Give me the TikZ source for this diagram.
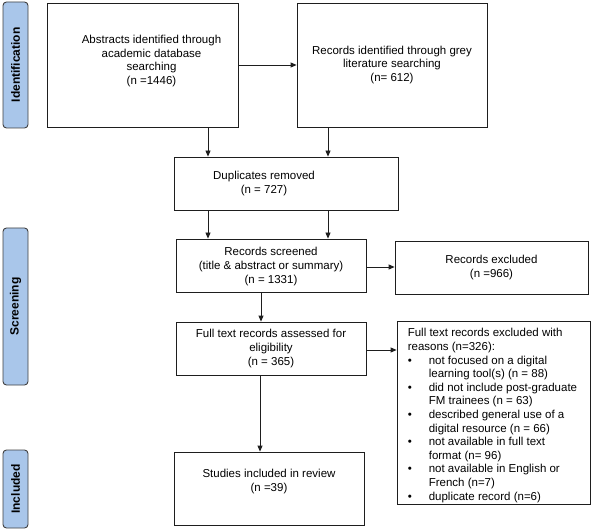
\documentclass[tikz,border=0pt]{standalone}
\usepackage{fontspec}
\setmainfont{Liberation Sans}
\usetikzlibrary{arrows.meta,calc}
\definecolor{lblfill}{HTML}{A9C6EA}
\definecolor{lbldraw}{HTML}{404040}
\definecolor{ln}{HTML}{1E1E1E}
\newcommand{\bul}{\makebox[21pt][l]{\textbullet}}
\newcommand{\ind}{\hspace*{21pt}}
\begin{document}
\begin{tikzpicture}[x=1pt,y=-1pt,
  box/.style={draw=ln,line width=0.8pt,rectangle,inner sep=0pt},
  txt/.style={align=center,inner sep=0pt,font=\fontsize{11.5}{13.6}\selectfont},
  phase/.style={draw=lbldraw,fill=lblfill,line width=0.9pt,rounded corners=3.5pt,minimum width=25pt,inner sep=0pt,font=\fontsize{12}{14}\selectfont\bfseries},
  arr/.style={draw=ln,line width=0.8pt,-{Triangle[length=6pt,width=5pt]}}]
\useasboundingbox (0,0) rectangle (591,529);
% phase labels
\node[phase,minimum height=126pt] (pid) at (15.5,65) {\rotatebox{90}{Identification}};
\node[phase,minimum height=157pt] (psc) at (15.5,306.5) {\rotatebox{90}{Screening}};
\node[phase,minimum height=78pt] (pin) at (15.5,489) {\rotatebox{90}{Included}};
% boxes
\node[box,minimum width=191pt,minimum height=124pt,
  label={[txt,xshift=9pt,yshift=4pt]center:{Abstracts identified through\\academic database\\searching\\(n =1446)}}] (abs) at (142.5,65) {};
\node[box,minimum width=190pt,minimum height=124pt,
  label={[txt]center:{Records identified through grey\\literature searching\\(n= 612)}}] (grey) at (392,65) {};
\node[box,minimum width=224pt,minimum height=53pt,
  label={[txt,xshift=-22pt]center:{Duplicates removed\\(n = 727)}}] (dup) at (286,183.5) {};
\node[box,minimum width=190pt,minimum height=53pt,
  label={[txt,yshift=-1pt]center:{Records screened\\(title \& abstract or summary)\\(n = 1331)}}] (scr) at (271,265.5) {};
\node[box,minimum width=193pt,minimum height=53pt,
  label={[txt]center:{Records excluded\\(n =966)}}] (excl) at (491.5,267.5) {};
\node[box,minimum width=190pt,minimum height=53pt,
  label={[txt]center:{Full text records assessed for\\eligibility\\(n = 365)}}] (full) at (271,348.5) {};
\node[box,minimum width=193pt,minimum height=183pt] (reas) at (493.5,412.5) {};
\node[txt,align=left,anchor=west] (reastxt) at ([xshift=11pt,yshift=-3pt]reas.west) {Full text records excluded with\\
reasons (n=326):\\
\bul not focused on a digital\\
\ind learning tool(s) (n = 88)\\
\bul did not include post-graduate\\
\ind FM trainees (n = 63)\\
\bul described general use of a\\
\ind digital resource (n = 66)\\
\bul not available in full text\\
\ind format (n= 96)\\
\bul not available in English or\\
\ind French (n=7)\\
\bul duplicate record (n=6)};
\node[box,minimum width=190pt,minimum height=73pt,
  label={[txt,yshift=7pt]center:{Studies included in review\\(n =39)}}] (incl) at (269,488.5) {};
% connectors
\draw[arr] (abs.east) -- (grey.west);
\draw[arr] ([xshift=65.5pt]abs.south) -- ([xshift=65.5pt]abs.south |- dup.north);
\draw[arr] ([xshift=-64pt]grey.south) -- ([xshift=-64pt]grey.south |- dup.north);
\draw[arr] ([xshift=-78pt]dup.south) -- ([xshift=-78pt]dup.south |- scr.north);
\draw[arr] ([xshift=42pt]dup.south) -- ([xshift=42pt]dup.south |- scr.north);
\draw[arr] ([yshift=-1.5pt]scr.east) -- ([yshift=-1.5pt]scr.east -| excl.west);
\draw[arr] ([xshift=-10pt]scr.south) -- ([xshift=-10pt]scr.south |- full.north);
\draw[arr] ([yshift=-1.5pt]full.east) -- ([yshift=-1.5pt]full.east -| reas.west);
\draw[arr] ([xshift=-11pt]full.south) -- ([xshift=-11pt]full.south |- incl.north);
\end{tikzpicture}
\end{document}
